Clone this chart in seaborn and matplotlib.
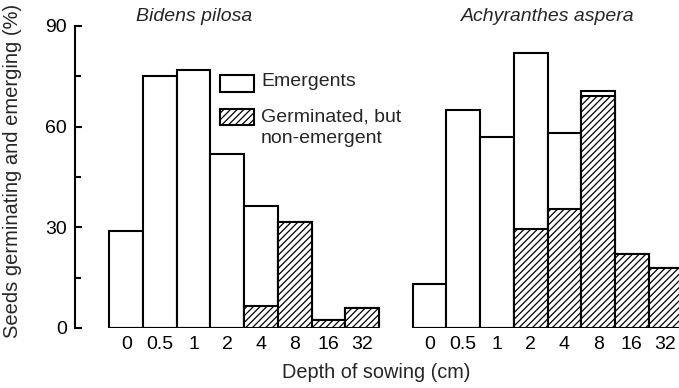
import numpy as np
import pandas as pd
import matplotlib
matplotlib.use("Agg")
import matplotlib.pyplot as plt
from matplotlib.patches import Rectangle
from matplotlib.ticker import MultipleLocator
import seaborn as sns

# Sowing depths (cm) for each species panel
depths = ["0", "0.5", "1", "2", "4", "8", "16", "32"]
species = ["Bidens pilosa", "Achyranthes aspera"]

# Percent of seeds that emerged, and that germinated but did not emerge
bidens_emergent = [29, 75, 77, 52, 30, 0, 0, 0]
bidens_nonemergent = [0, 0, 0, 0, 6.5, 31.5, 2.5, 6]
achyr_emergent = [13, 65, 57, 52.5, 22.5, 1.5, 0, 0]
achyr_nonemergent = [0, 0, 0, 29.5, 35.5, 69, 22, 18]

yticks = [0, 30, 60, 90]

sns.set_style("white")
plt.rcParams["font.family"] = ["Liberation Sans", "DejaVu Sans"]
plt.rcParams["hatch.linewidth"] = 0.9

rows = []
for g, (name, em, ne) in enumerate(
    [(species[0], bidens_emergent, bidens_nonemergent),
     (species[1], achyr_emergent, achyr_nonemergent)]
):
    for i, d in enumerate(depths):
        rows.append({"species": name, "depth": d, "pos": g * (len(depths) + 1) + i,
                     "emergent": em[i], "nonemergent": ne[i],
                     "total": em[i] + ne[i]})
df = pd.DataFrame(rows)

W, H = 679, 388
fig = plt.figure(figsize=(W / 100, H / 100), dpi=100)
ax = fig.add_axes([75 / W, 60 / H, (W - 75) / W, 302 / H])

lw = 1.5
fs = 14
# Whole column (emergents + non-emergents), open bars
sns.barplot(data=df, x="pos", y="total", native_scale=True, width=1,
            color="white", saturation=1, edgecolor="black", linewidth=lw,
            errorbar=None, ax=ax)
# Germinated but non-emergent share, hatched from the base
sns.barplot(data=df, x="pos", y="nonemergent", native_scale=True, width=1,
            color="white", saturation=1, edgecolor="black", linewidth=lw,
            hatch="/////", errorbar=None, ax=ax)

ax.set_xlim(-1.52, 16.4)
ax.set_ylim(0, 90)
ax.set_xticks(df["pos"], df["depth"])
ax.set_yticks(yticks)
ax.yaxis.set_minor_locator(MultipleLocator(15))
ax.set_xlabel("")
ax.set_ylabel("")

for s in ["top", "right", "bottom"]:
    ax.spines[s].set_visible(False)
ax.spines["left"].set_linewidth(lw)
ax.spines["left"].set_color("black")

ax.tick_params(axis="y", which="major", direction="in", length=5, width=lw,
               labelsize=fs, pad=6, left=True, colors="black")
ax.tick_params(axis="y", which="minor", direction="in", length=4, width=lw,
               left=True, colors="black")
ax.tick_params(axis="x", length=0, labelsize=fs, pad=5.5, colors="black")

# Species titles over each group
for cx, name in zip([2.0, 12.5], species):
    ax.text(cx, 1.03, name, transform=ax.get_xaxis_transform(),
            ha="center", va="center", fontsize=fs, style="italic")

# Legend drawn as boxes with labels
def ax_xy(px, py):
    return (px - 75) / (W - 75), (328 - py) / 302

x0, y0 = ax_xy(220, 92)
x1, y1 = ax_xy(254, 75)
ax.add_patch(Rectangle((x0, y0), x1 - x0, y1 - y0, transform=ax.transAxes,
                       facecolor="white", edgecolor="black", linewidth=lw,
                       clip_on=False))
x0, y0 = ax_xy(220, 125)
x1, y1 = ax_xy(254, 109)
ax.add_patch(Rectangle((x0, y0), x1 - x0, y1 - y0, transform=ax.transAxes,
                       facecolor="white", edgecolor="black", linewidth=lw,
                       hatch="/////", clip_on=False))
tx, ty = ax_xy(261, 82)
ax.text(tx, ty, "Emergents", transform=ax.transAxes, ha="left", va="center",
        fontsize=fs)
tx, ty = ax_xy(261, 108)
ax.text(tx, ty, "Germinated, but\nnon-emergent", transform=ax.transAxes,
        ha="left", va="top", fontsize=fs, linespacing=1.4)

fig.text(376 / W, 1 - 373 / H, "Depth of sowing (cm)", ha="center",
         va="center", fontsize=14.3)
fig.text(13 / W, 1 - 171 / H, "Seeds germinating and emerging (%)",
         rotation=90, ha="center", va="center", fontsize=14.5)

fig.savefig("out.png", dpi=100)
